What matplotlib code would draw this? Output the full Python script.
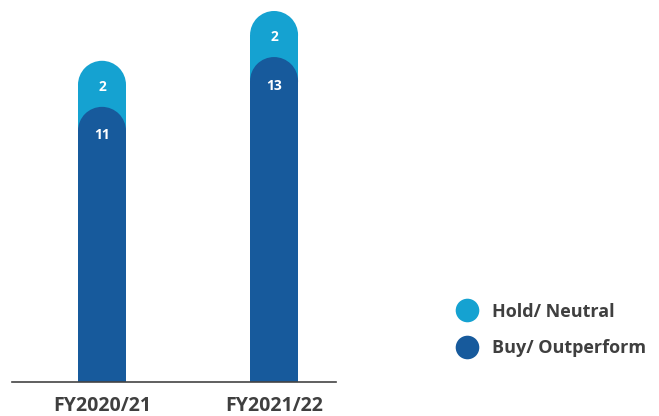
import matplotlib.pyplot as plt
from matplotlib.patches import Ellipse
from matplotlib.lines import Line2D

# data
years = ['FY2020/21', 'FY2021/22']
buy = [11, 13]
hold = [2, 2]
series_names = ['Hold/ Neutral', 'Buy/ Outperform']

light = '#15a2d1'
dark = '#175a9c'
text_gray = '#3f3f3f'

plt.rcParams['font.family'] = ['Open Sans', 'DejaVu Sans']

fig = plt.figure(figsize=(6.59, 4.16), dpi=100)
ax = fig.add_axes([12 / 659, 34 / 416, 324 / 659, 382 / 416])

x_min, x_max = -0.523, 1.360
y_max = 382 / 24.9
ax.set_xlim(x_min, x_max)
ax.set_ylim(0, y_max)

width = 0.279
# cap radius in data units (half the bar width in pixels)
px_per_x = 324 / (x_max - x_min)
px_per_y = 382 / y_max
r_px = width * px_per_x / 2
r_y = r_px / px_per_y


def capsule(xc, y0, y1, color, z):
    ax.bar(xc, (y1 - r_y) - y0, bottom=y0, width=width, color=color,
           linewidth=0, zorder=z)
    ax.add_patch(Ellipse((xc, y1 - r_y), width, 2 * r_y, color=color,
                         linewidth=0, zorder=z))


for i in range(len(years)):
    total = buy[i] + hold[i]
    capsule(i, buy[i] - r_y, total - 0.1, light, 1)
    capsule(i, 0, buy[i] + 0.05, dark, 2)
    ax.text(i, total - 1.15, str(hold[i]), ha='center', va='center',
            color='white', fontsize=10, fontweight='bold', zorder=3)
    ax.text(i, buy[i] - 1.1, str(buy[i]), ha='center', va='center',
            color='white', fontsize=10, fontweight='bold', zorder=3)

for s in ['top', 'right', 'left']:
    ax.spines[s].set_visible(False)
ax.spines['bottom'].set_color('#444444')
ax.spines['bottom'].set_linewidth(1.2)
ax.set_yticks([])
ax.set_xticks(range(len(years)))
ax.set_xticklabels(years, fontsize=14, fontweight='bold', color=text_gray)
ax.tick_params(axis='x', length=0, pad=10)

handles = [Line2D([], [], marker='o', linestyle='', markersize=17,
                  markerfacecolor=c, markeredgewidth=0) for c in (light, dark)]
fig.legend(handles, series_names, loc='center left',
           bbox_to_anchor=(440 / 659, 1 - 330 / 416), frameon=False,
           prop={'size': 13, 'weight': 'bold'}, labelcolor=text_gray,
           handletextpad=0.8, labelspacing=1.05, handlelength=1.2)

fig.savefig('out.png', dpi=100)
